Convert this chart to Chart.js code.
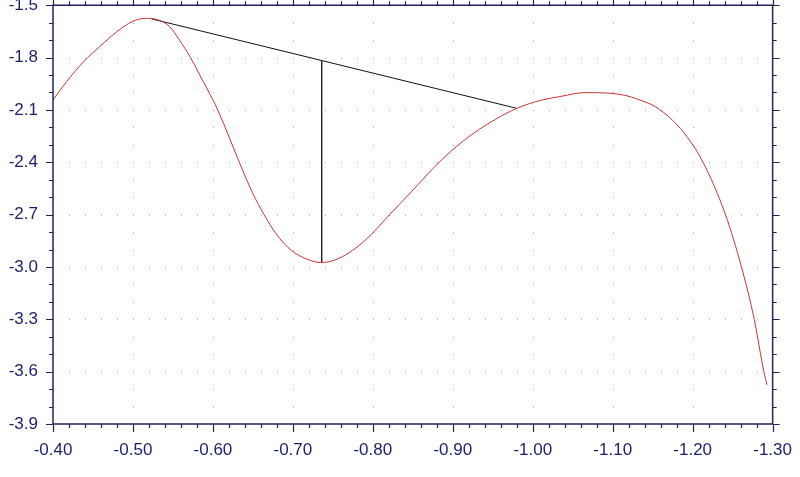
<!DOCTYPE html>
<html>
<head>
<meta charset="utf-8">
<script src="https://cdn.jsdelivr.net/npm/chart.js@4"></script>
<style>
  html, body { margin: 0; padding: 0; background: #fff; }
  #wrap { position: relative; width: 800px; height: 477px; overflow: hidden; }
  canvas { display: block; margin-top: -20px; }
</style>
</head>
<body>
<div id="wrap"><canvas id="c" width="808" height="497"></canvas></div>
<script>
// ---- data ----
const curveX = [-0.400, -0.417, -0.438, -0.459, -0.479, -0.500, -0.517, -0.530, -0.546, -0.558,
                -0.572, -0.583, -0.594, -0.606, -0.637, -0.650, -0.664, -0.679, -0.698, -0.716,
                -0.735, -0.758, -0.791, -0.821, -0.848, -0.883, -0.912, -0.932, -0.953, -0.980,
                -1.011, -1.036, -1.065, -1.095, -1.115, -1.132, -1.153, -1.175, -1.194, -1.213,
                -1.241, -1.261, -1.277, -1.289, -1.293];
const curveY = [-2.043, -1.938, -1.825, -1.735, -1.655, -1.592, -1.575, -1.582, -1.623, -1.699,
                -1.800, -1.895, -1.990, -2.100, -2.444, -2.580, -2.700, -2.810, -2.905, -2.952,
                -2.975, -2.950, -2.845, -2.700, -2.570, -2.400, -2.282, -2.215, -2.155, -2.091,
                -2.044, -2.022, -2.001, -2.004, -2.016, -2.040, -2.081, -2.160, -2.260, -2.400,
                -2.700, -3.000, -3.300, -3.600, -3.676];
const tangentX = [-0.523, -0.980];
const tangentY = [-1.578, -2.091];
const dropX = [-0.736, -0.736];
const dropY = [-1.818, -2.975];

const xMin = -1.30, xMax = -0.40, xMajor = 0.1, xMinor = 0.02;
const yMin = -3.9, yMax = -1.5, yMajor = 0.3, yMinor = 0.1;

const toPts = (xs, ys) => xs.map((x, i) => ({ x: x, y: ys[i] }));

const AXIS = '#22235e';
const TEXT = '#1c1f6e';

function range(a, b, step) {
  const out = [];
  const n = Math.round((b - a) / step);
  for (let i = 0; i <= n; i++) out.push(+(a + i * step).toFixed(4));
  return out;
}
const isMult = (v, s) => Math.abs(v / s - Math.round(v / s)) < 1e-6;

const framePlugin = {
  id: 'frame',
  beforeDatasetsDraw(chart) {
    const { ctx, scales: { x, y } } = chart;
    ctx.save();
    ctx.fillStyle = '#a8a8a8';
    const xs = range(xMin, xMax, xMinor);
    const ys = range(yMin, yMax, yMinor);
    range(yMin, yMax, yMajor).forEach(yv => {
      const py = Math.round(y.getPixelForValue(yv));
      xs.forEach(xv => {
        const px = Math.round(x.getPixelForValue(xv));
        ctx.fillRect(px, py, 1, 1);
      });
    });
    range(xMin, xMax, xMajor).forEach(xv => {
      const px = Math.round(x.getPixelForValue(xv));
      ys.forEach(yv => {
        const py = Math.round(y.getPixelForValue(yv));
        ctx.fillRect(px, py, 1, 1);
      });
    });
    ctx.restore();
  },
  afterDraw(chart) {
    const { ctx, chartArea: a, scales: { x, y } } = chart;
    ctx.save();
    ctx.strokeStyle = AXIS;
    ctx.lineWidth = 1.5;
    ctx.beginPath();
    ctx.rect(a.left, a.top, a.right - a.left, a.bottom - a.top);
    ctx.stroke();
    ctx.lineWidth = 1.2;
    ctx.beginPath();
    range(xMin, xMax, xMinor).forEach(xv => {
      const px = Math.round(x.getPixelForValue(xv)) + 0.5;
      const major = isMult(xv, xMajor);
      const lb = major ? 8 : 4, lt = major ? 6 : 4;
      ctx.moveTo(px, a.bottom); ctx.lineTo(px, a.bottom + lb);
      ctx.moveTo(px, a.top); ctx.lineTo(px, a.top - lt);
    });
    range(yMin, yMax, yMinor).forEach(yv => {
      const py = Math.round(y.getPixelForValue(yv)) + 0.5;
      const major = isMult(yv, yMajor);
      const l = major ? 7 : 4;
      ctx.moveTo(a.left, py); ctx.lineTo(a.left - l, py);
      ctx.moveTo(a.right, py); ctx.lineTo(a.right + l, py);
    });
    ctx.stroke();
    ctx.restore();
  }
};

new Chart(document.getElementById('c'), {
  type: 'scatter',
  data: {
    datasets: [
      {
        label: 'curve',
        data: toPts(curveX, curveY),
        showLine: true,
        borderColor: '#cc3333',
        borderWidth: 1,
        pointRadius: 0,
        cubicInterpolationMode: 'monotone',
        fill: false
      },
      {
        label: 'tangent',
        data: toPts(tangentX, tangentY),
        showLine: true,
        borderColor: '#111111',
        borderWidth: 1,
        pointRadius: 0
      },
      {
        label: 'drop',
        data: toPts(dropX, dropY),
        showLine: true,
        borderColor: '#222222',
        borderWidth: 1,
        pointRadius: 0
      }
    ]
  },
  options: {
    responsive: false,
    animation: false,
    events: [],
    layout: { padding: { top: 5, right: 16, left: 0, bottom: 0 } },
    plugins: { legend: { display: false }, tooltip: { enabled: false } },
    scales: {
      x: {
        type: 'linear',
        reverse: true,
        min: xMin, max: xMax,
        afterFit(s) { s.height = 53; },
        border: { display: false },
        grid: { display: false, drawTicks: false },
        ticks: {
          stepSize: xMajor,
          padding: 16,
          color: TEXT,
          font: { family: 'Liberation Sans, Arial, sans-serif', size: 17 },
          callback: v => Number(v).toFixed(2),
          maxRotation: 0,
          autoSkip: false
        }
      },
      y: {
        type: 'linear',
        min: yMin, max: yMax,
        afterFit(s) { s.width = 53; },
        border: { display: false },
        grid: { display: false, drawTicks: false },
        ticks: {
          stepSize: yMajor,
          padding: 15,
          color: TEXT,
          font: { family: 'Liberation Sans, Arial, sans-serif', size: 17 },
          callback: v => Number(v).toFixed(1),
          autoSkip: false
        }
      }
    }
  },
  plugins: [framePlugin]
});
</script>
</body>
</html>
